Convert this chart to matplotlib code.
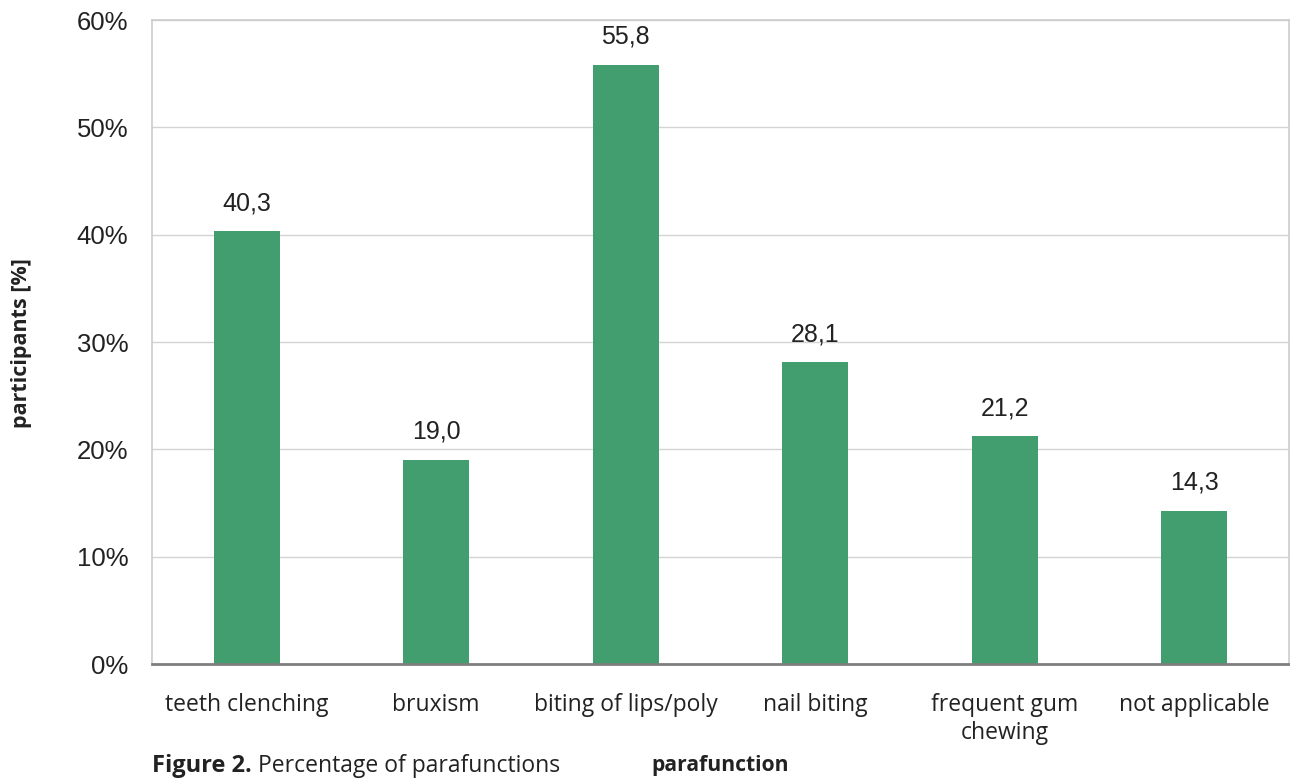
import matplotlib.pyplot as plt
import numpy as np

categories = ["teeth clenching", "bruxism", "biting of lips/poly", "nail biting",
              "frequent gum\nchewing", "not applicable"]
values = [40.3, 19.0, 55.8, 28.1, 21.2, 14.3]
yticks = [0, 10, 20, 30, 40, 50, 60]

green = "#429e6f"
label_font = ["Open Sans", "DejaVu Sans"]
num_font = ["Liberation Sans", "DejaVu Sans"]
W, H = 1290, 781

fig = plt.figure(figsize=(W / 100, H / 100), dpi=100)
ax = fig.add_axes([152 / W, 1 - 664 / H, 1137 / W, 644 / H])

x = np.arange(len(categories))
ax.bar(x, values, width=0.35, color=green, zorder=3)
for xi, v in zip(x, values):
    ax.text(xi, v + 1.5, f"{v:.1f}".replace(".", ","), ha="center", va="bottom",
            fontsize=18, family=num_font, color="#222222")

ax.set_xlim(-0.5, len(categories) - 0.5)
ax.set_ylim(0, 60)
ax.set_yticks(yticks)
ax.set_yticklabels([f"{t}%" for t in yticks], family=num_font, fontsize=18.5, color="#222222")
ax.set_xticks(x)
ax.set_xticklabels(categories, family=label_font, fontsize=16.5, color="#222222",
                   linespacing=1.2, va="top")
ax.tick_params(axis="both", length=0)
ax.tick_params(axis="y", pad=17)
ax.tick_params(axis="x", pad=21)

ax.grid(axis="y", color="#d4d4d4", linewidth=1, zorder=0)
for side in ["left", "top", "right"]:
    ax.spines[side].set_color("#cccccc")
    ax.spines[side].set_linewidth(1.2)
ax.spines["bottom"].set_color("#7f7f7f")
ax.spines["bottom"].set_linewidth(2)
ax.spines["bottom"].set_zorder(4)

fig.text(22 / W, 1 - 343 / H, "participants [%]", rotation=90, ha="center", va="center",
         fontsize=15.5, fontweight="bold", family=label_font, color="#222222")

# caption: bold "Figure 2." followed by the plain text
fig.canvas.draw()
renderer = fig.canvas.get_renderer()
t1 = fig.text(152 / W, 1 - 766 / H, "Figure 2.", ha="left", va="center",
              fontsize=17, fontweight="bold", family=label_font, color="#222222")
bb = t1.get_window_extent(renderer)
fig.text(bb.x1 / W + 6 / W, 1 - 766 / H, "Percentage of parafunctions", ha="left", va="center",
         fontsize=16.5, family=label_font, color="#222222")
fig.text(720 / W, 1 - 766 / H, "parafunction", ha="center", va="center",
         fontsize=15.2, fontweight="bold", family=label_font, color="#222222")

fig.savefig("out.png", dpi=100, facecolor="white")
